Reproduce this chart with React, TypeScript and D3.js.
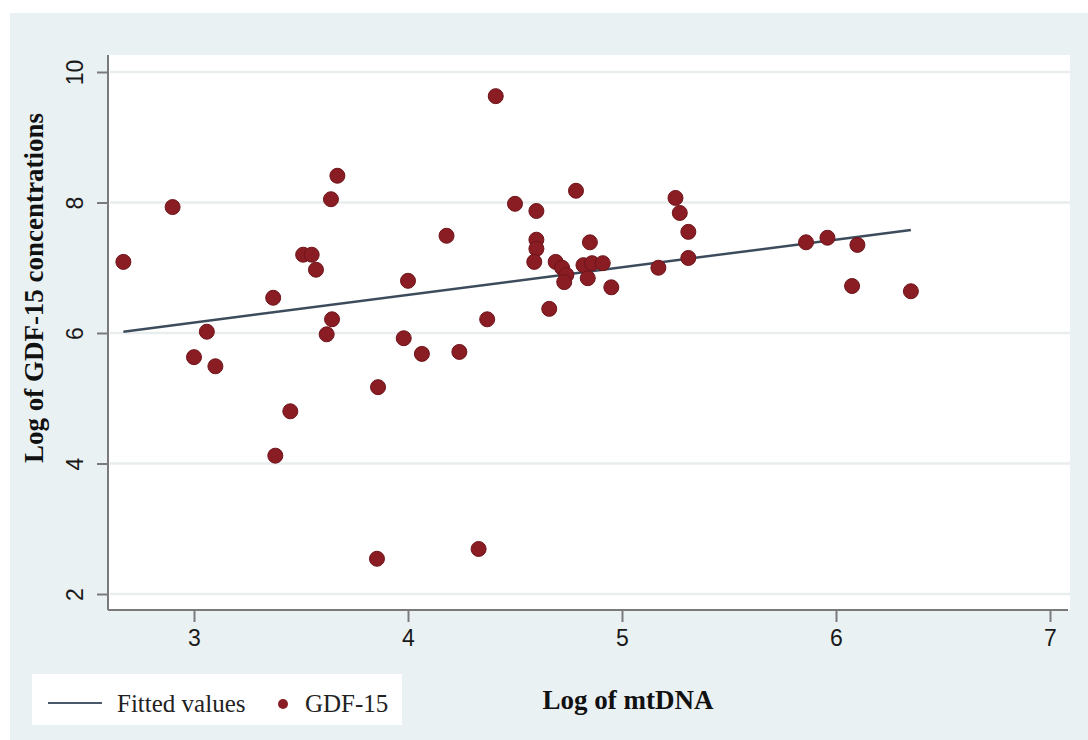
import { useEffect, useRef } from 'react'
import * as d3 from 'd3'

// Log of mtDNA (x) vs Log of GDF-15 (y)
const mtDNA = [
  2.67, 2.90, 3.00, 3.06, 3.10, 3.37, 3.38, 3.45, 3.51, 3.55,
  3.57, 3.62, 3.645, 3.64, 3.67, 3.86, 3.855, 3.98, 4.00, 4.065,
  4.18, 4.24, 4.33, 4.37, 4.41, 4.50, 4.60, 4.60, 4.60, 4.59,
  4.66, 4.69, 4.72, 4.74, 4.73, 4.785, 4.82, 4.85, 4.86, 4.84,
  4.91, 4.95, 5.17, 5.25, 5.27, 5.31, 5.31, 5.86, 5.96, 6.10,
  6.075, 6.35,
]
const gdf15 = [
  7.09, 7.93, 5.63, 6.02, 5.49, 6.54, 4.12, 4.80, 7.20, 7.20,
  6.97, 5.98, 6.21, 8.05, 8.41, 5.17, 2.54, 5.92, 6.80, 5.68,
  7.49, 5.71, 2.69, 6.21, 9.63, 7.98, 7.87, 7.43, 7.29, 7.09,
  6.37, 7.09, 7.00, 6.89, 6.78, 8.18, 7.04, 7.39, 7.07, 6.84,
  7.07, 6.70, 7.00, 8.07, 7.84, 7.55, 7.15, 7.39, 7.46, 7.35,
  6.72, 6.64,
]

// fitted values line (ends of the drawn segment)
const fitX = [2.67, 6.35]
const fitY = [6.02, 7.58]

const xTicks = [3, 4, 5, 6, 7]
const yTicks = [2, 4, 6, 8, 10]

const W = 1088
const H = 740

export default function App() {
  const svgRef = useRef<SVGSVGElement | null>(null)

  useEffect(() => {
    const el = svgRef.current
    if (!el) return

    const plot = { left: 108, right: 1070, top: 55, bottom: 610 }
    const serif = '"Liberation Serif", "Times New Roman", serif'
    const sans = '"Liberation Sans", Arial, sans-serif'
    const axisCol = '#7a7a7a'
    const dotCol = '#8a1c24'

    const xScale = d3.scaleLinear().domain([3, 7]).range([194, 1050])
    const yScale = d3.scaleLinear().domain([2, 10]).range([594, 72])

    const svg = d3.select(el)
    svg.selectAll('*').remove()

    // graph region background
    svg.append('rect').attr('x', 0).attr('y', 0).attr('width', W).attr('height', H).attr('fill', '#ffffff')
    svg.append('rect').attr('x', 10).attr('y', 13).attr('width', W - 10).attr('height', H - 13).attr('fill', '#eaf1f3')

    // plot region
    svg.append('rect')
      .attr('x', plot.left).attr('y', plot.top)
      .attr('width', plot.right - plot.left).attr('height', plot.bottom - plot.top)
      .attr('fill', '#ffffff')

    // grid
    svg.append('g').selectAll('line').data(yTicks).join('line')
      .attr('x1', plot.left + 2).attr('x2', plot.right)
      .attr('y1', d => yScale(d)).attr('y2', d => yScale(d))
      .attr('stroke', '#e9eded').attr('stroke-width', 2.5)

    // fitted line
    const lineFn = d3.line<number>()
      .x((_, i) => xScale(fitX[i]))
      .y(d => yScale(d))
    svg.append('path')
      .datum(fitY)
      .attr('d', lineFn)
      .attr('fill', 'none')
      .attr('stroke', '#3d4c5c')
      .attr('stroke-width', 2.5)

    // points
    svg.append('g').selectAll('circle').data(mtDNA).join('circle')
      .attr('cx', d => xScale(d))
      .attr('cy', (_, i) => yScale(gdf15[i]))
      .attr('r', 7.5)
      .attr('fill', dotCol)
      .attr('stroke', '#6e141a')
      .attr('stroke-width', 1)

    // x axis
    const xAxis = svg.append('g').attr('transform', `translate(0,${plot.bottom})`)
      .call(d3.axisBottom(xScale).tickValues(xTicks).tickFormat(d3.format('d')).tickSize(12).tickPadding(8))
    xAxis.select('.domain').remove()
    xAxis.selectAll('line').attr('stroke', axisCol).attr('stroke-width', 2)
    xAxis.selectAll('text')
      .attr('fill', '#1a1a1a')
      .attr('font-family', sans)
      .attr('font-size', '23px')
    xAxis.append('line')
      .attr('x1', plot.left).attr('x2', plot.right - 2)
      .attr('stroke', axisCol).attr('stroke-width', 2)

    // y axis
    const yAxis = svg.append('g').attr('transform', `translate(${plot.left},0)`)
      .call(d3.axisLeft(yScale).tickValues(yTicks).tickFormat(d3.format('d')).tickSize(11).tickPadding(4))
    yAxis.select('.domain').remove()
    yAxis.selectAll('line').attr('stroke', axisCol).attr('stroke-width', 2)
    yAxis.selectAll<SVGTextElement, number>('text')
      .attr('fill', '#1a1a1a')
      .attr('font-family', sans)
      .attr('font-size', '23px')
      .attr('x', null)
      .attr('dy', null)
      .attr('text-anchor', 'middle')
      .attr('transform', 'translate(-25,0) rotate(-90)')
    yAxis.append('line')
      .attr('y1', plot.top).attr('y2', plot.bottom)
      .attr('stroke', axisCol).attr('stroke-width', 2)

    // axis titles
    svg.append('text')
      .attr('transform', 'translate(43,288) rotate(-90)')
      .attr('text-anchor', 'middle')
      .attr('font-family', serif)
      .attr('font-weight', 'bold')
      .attr('font-size', '27px')
      .attr('fill', '#111')
      .text('Log of GDF-15 concentrations')

    svg.append('text')
      .attr('x', 628).attr('y', 709)
      .attr('text-anchor', 'middle')
      .attr('font-family', serif)
      .attr('font-weight', 'bold')
      .attr('font-size', '27px')
      .attr('fill', '#111')
      .text('Log of mtDNA')

    // legend
    const lg = svg.append('g')
    lg.append('rect').attr('x', 32).attr('y', 674).attr('width', 370).attr('height', 51).attr('fill', '#ffffff')
    lg.append('line').attr('x1', 48).attr('x2', 102).attr('y1', 703).attr('y2', 703)
      .attr('stroke', '#4a5a6a').attr('stroke-width', 2)
    lg.append('text').attr('x', 117).attr('y', 712)
      .attr('font-family', serif).attr('font-size', '25px').attr('fill', '#222')
      .text('Fitted values')
    lg.append('circle').attr('cx', 283).attr('cy', 704).attr('r', 5).attr('fill', dotCol)
    lg.append('text').attr('x', 305).attr('y', 712)
      .attr('font-family', serif).attr('font-size', '25px').attr('fill', '#222')
      .text('GDF-15')
  }, [])

  return (
    <svg
      ref={svgRef}
      width={W}
      height={H}
      style={{ position: 'absolute', left: 0, top: 0, display: 'block' }}
    />
  )
}
